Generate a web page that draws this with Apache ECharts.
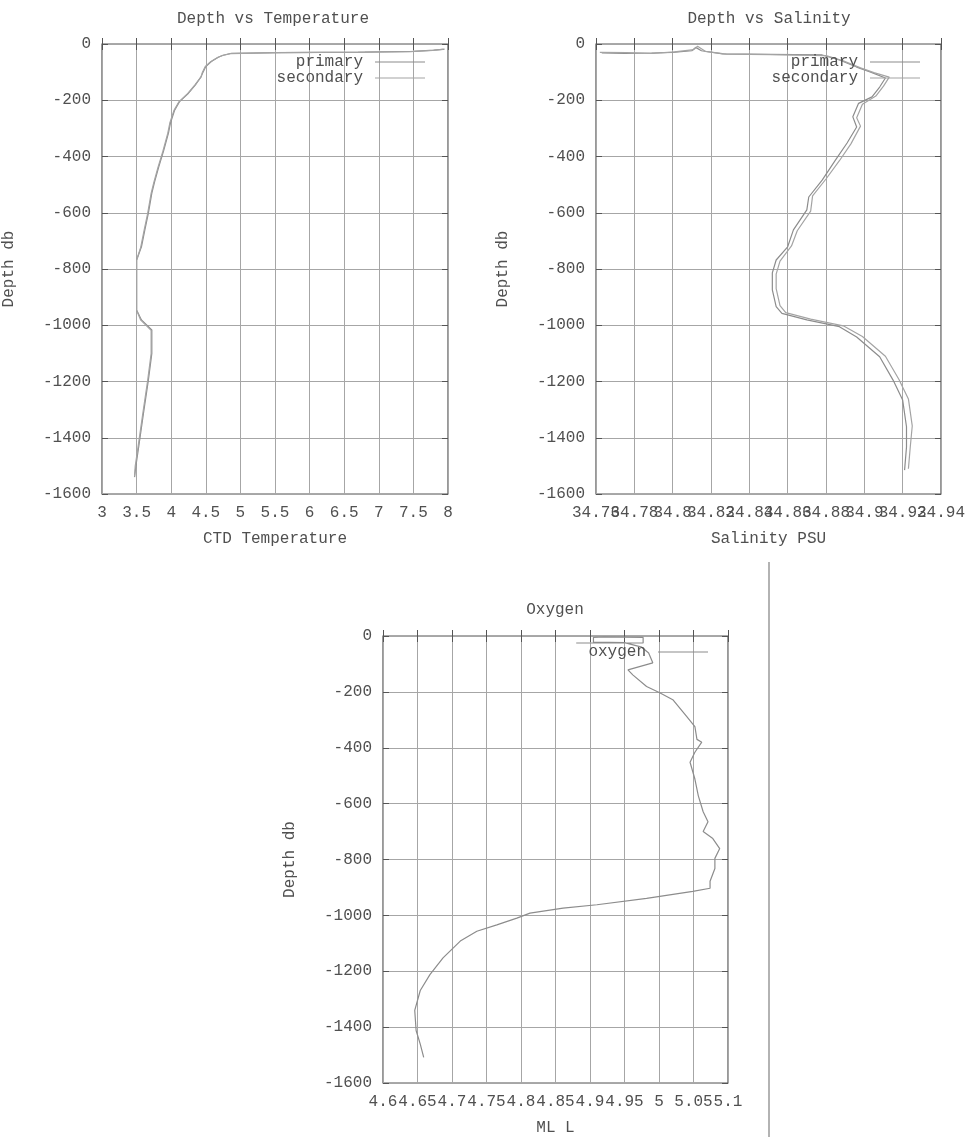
<!DOCTYPE html>
<html>
<head>
<meta charset="utf-8">
<script src="https://cdn.jsdelivr.net/npm/echarts@6/dist/echarts.min.js"></script>
<style>
html,body{margin:0;padding:0;background:#fff;}
#c{width:968px;height:1137px;}
</style>
</head>
<body>
<div id="c"></div>
<script>
// ---- Data (value, depth) ----
var temperaturePrimary = [
  [7.95,-18],[7.8,-22],[7.5,-26],[6.8,-29],[5.6,-31],[4.87,-33],[4.75,-40],[4.68,-47],[4.58,-62],
  [4.50,-80],[4.46,-100],[4.48,-106],[4.43,-117],[4.35,-145],[4.25,-175],[4.12,-205],[4.05,-235],
  [3.99,-280],[3.96,-317],[3.89,-380],[3.82,-437],[3.76,-490],[3.72,-530],[3.67,-601],[3.62,-660],
  [3.57,-721],[3.50,-768],[3.50,-850],[3.50,-946],[3.57,-981],[3.72,-1017],[3.72,-1100],[3.67,-1195],
  [3.60,-1312],[3.53,-1433],[3.49,-1500],[3.47,-1540]
];
var temperatureSecondary = [
  [7.93,-19],[7.78,-23],[7.45,-27],[6.7,-29],[5.5,-31],[4.86,-34],[4.74,-41],[4.67,-48],[4.57,-63],
  [4.49,-81],[4.45,-101],[4.43,-118],[4.34,-146],[4.24,-176],[4.11,-206],[4.04,-236],
  [3.98,-281],[3.95,-318],[3.88,-381],[3.81,-438],[3.75,-491],[3.71,-531],[3.66,-602],[3.61,-661],
  [3.56,-722],[3.50,-769],[3.50,-851],[3.50,-947],[3.56,-982],[3.71,-1018],[3.71,-1101],[3.66,-1196],
  [3.59,-1313],[3.52,-1434],[3.48,-1501],[3.47,-1538]
];
var salinityPrimary = [
  [34.763,-32],[34.775,-33],[34.789,-32],[34.800,-30],[34.810,-24],[34.812,-12],[34.815,-24],
  [34.826,-35],[34.850,-37],[34.878,-39],[34.887,-57],[34.896,-82],[34.903,-99],[34.911,-121],
  [34.908,-153],[34.904,-188],[34.897,-211],[34.894,-259],[34.896,-295],[34.891,-352],[34.885,-412],
  [34.878,-484],[34.871,-544],[34.870,-590],[34.863,-661],[34.860,-721],[34.854,-768],[34.852,-814],
  [34.852,-874],[34.854,-934],[34.857,-958],[34.870,-981],[34.887,-1005],[34.896,-1042],[34.908,-1112],
  [34.915,-1195],[34.920,-1266],[34.922,-1361],[34.922,-1433],[34.921,-1515]
];
var salinitySecondary = [
  [34.762,-30],[34.776,-31],[34.790,-33],[34.801,-28],[34.811,-20],[34.813,-8],[34.817,-26],
  [34.828,-36],[34.852,-38],[34.880,-41],[34.889,-60],[34.898,-85],[34.905,-102],[34.913,-118],
  [34.910,-150],[34.906,-185],[34.899,-214],[34.896,-262],[34.898,-292],[34.893,-355],[34.887,-415],
  [34.880,-480],[34.873,-540],[34.872,-594],[34.865,-664],[34.862,-718],[34.856,-772],[34.854,-818],
  [34.854,-870],[34.856,-930],[34.859,-955],[34.872,-978],[34.889,-1002],[34.899,-1040],[34.911,-1110],
  [34.918,-1192],[34.923,-1262],[34.925,-1358],[34.924,-1430],[34.923,-1510]
];
var oxygenValues = [
  [4.88,-25],[4.977,-25],[4.977,-5],[4.92,-3],[4.905,-5],[4.905,-22],[4.95,-24],[4.975,-40],
  [4.985,-61],[4.991,-96],[4.955,-121],[4.962,-139],[4.982,-181],[5.001,-203],[5.020,-228],
  [5.040,-288],[5.052,-324],[5.055,-370],[5.062,-380],[5.052,-416],[5.045,-452],[5.052,-512],
  [5.057,-572],[5.064,-629],[5.071,-665],[5.064,-700],[5.078,-725],[5.088,-761],[5.081,-796],
  [5.081,-832],[5.074,-878],[5.074,-903],[5.049,-914],[4.982,-939],[4.910,-962],[4.861,-974],
  [4.813,-992],[4.794,-1010],[4.765,-1034],[4.736,-1057],[4.712,-1092],[4.687,-1152],[4.668,-1212],
  [4.654,-1269],[4.646,-1340],[4.648,-1412],[4.654,-1461],[4.659,-1508]
];
var titles = ['Depth vs Temperature', 'Depth vs Salinity', 'Oxygen'];
var xNames = ['CTD Temperature', 'Salinity PSU', 'ML L'];
var yName = 'Depth db';
var xRanges = [[3, 8, 0.5], [34.76, 34.94, 0.02], [4.6, 5.1, 0.05]];
var yRange = [-1600, 0, 200];

// ---- Styling / layout ----
var FONT = 'Liberation Mono';
var FS = 16;
var TXT = '#505050';
var TICK = {show: true, inside: true, length: 6, lineStyle: {color: '#555'}};
var grids = [
  {left: 100, top: 44, width: 348, height: 450},
  {left: 596, top: 44, width: 346, height: 450},
  {left: 383, top: 636, width: 345, height: 450}
];
var titlePos = [[273, 11], [769, 11], [555, 602]];

function plain(v) { return String(+v.toFixed(4)); }
function labelEven(v, i) { return i % 2 === 0 ? plain(v) : ''; }
function labelOdd(v, i) { return i % 2 === 1 ? plain(v) : ''; }

var xAxes = [], yAxes = [];
grids.forEach(function (g, i) {
  var r = xRanges[i];
  xAxes.push({
    type: 'value', gridIndex: i, min: r[0], max: r[1], interval: r[2], position: 'bottom',
    name: xNames[i], nameLocation: 'middle', nameGap: 37,
    nameTextStyle: {fontFamily: FONT, fontSize: FS, color: TXT},
    axisLine: {show: false},
    axisTick: TICK,
    axisLabel: {margin: 11, fontFamily: FONT, fontSize: FS, color: TXT, showMinLabel: true, showMaxLabel: true, formatter: labelEven},
    splitLine: {show: true, lineStyle: {color: '#a6a6a6', width: 1}}
  });
  yAxes.push({
    type: 'value', gridIndex: i, min: yRange[0], max: yRange[1], interval: yRange[2], position: 'left',
    name: yName, nameLocation: 'middle', nameGap: 85, nameRotate: 90,
    nameTextStyle: {fontFamily: FONT, fontSize: FS, color: TXT},
    axisLine: {show: false},
    axisTick: TICK,
    axisLabel: {margin: 11, fontFamily: FONT, fontSize: FS, color: TXT, formatter: plain},
    splitLine: {show: true, lineStyle: {color: '#a6a6a6', width: 1}}
  });
});
// mirrored tick axes (top / right)
grids.forEach(function (g, i) {
  var r = xRanges[i];
  xAxes.push({
    type: 'value', gridIndex: i, min: r[0], max: r[1], interval: r[2], position: 'top',
    axisLine: {show: false}, axisLabel: {show: false}, splitLine: {show: false},
    axisTick: TICK
  });
  yAxes.push({
    type: 'value', gridIndex: i, min: yRange[0], max: yRange[1], interval: yRange[2], position: 'right',
    axisLine: {show: false}, axisLabel: {show: false}, splitLine: {show: false},
    axisTick: TICK
  });
});
// second bottom axes carrying the odd-index tick labels (so overlapping labels all stay visible)
grids.forEach(function (g, i) {
  var r = xRanges[i];
  xAxes.push({
    type: 'value', gridIndex: i, min: r[0], max: r[1], interval: r[2], position: 'bottom', offset: 0,
    axisLine: {show: false}, axisTick: {show: false}, splitLine: {show: false},
    axisLabel: {margin: 11, fontFamily: FONT, fontSize: FS, color: TXT, showMinLabel: true, showMaxLabel: true, formatter: labelOdd}
  });
});

function lineSeries(name, data, idx, color) {
  return {
    name: name, type: 'line', xAxisIndex: idx, yAxisIndex: idx, data: data,
    showSymbol: false, symbol: 'none', animation: false,
    lineStyle: {color: color, width: 1.2}, itemStyle: {color: color}
  };
}

var legendBase = {
  orient: 'vertical', align: 'right', icon: 'rect', itemWidth: 50, itemHeight: 1,
  itemGap: 0, padding: 0, selectedMode: false,
  textStyle: {fontFamily: FONT, fontSize: FS, color: TXT, lineHeight: 16, padding: [0, 7, 0, 0]}
};
function mkLegend(names, right, top) {
  var o = JSON.parse(JSON.stringify(legendBase));
  o.data = names; o.right = right; o.top = top;
  return o;
}

var chart = echarts.init(document.getElementById('c'), null, {renderer: 'canvas'});
chart.setOption({
  backgroundColor: '#ffffff',
  animation: false,
  title: titles.map(function (t, i) {
    return {text: t, left: titlePos[i][0], top: titlePos[i][1], textAlign: 'center', padding: 0,
      textStyle: {fontFamily: FONT, fontSize: FS, fontWeight: 'normal', color: TXT}};
  }),
  grid: grids.map(function (g) {
    return {left: g.left, top: g.top, width: g.width, height: g.height, show: true,
      borderColor: '#555', borderWidth: 1.2, backgroundColor: 'transparent'};
  }),
  legend: [
    mkLegend(['primary', 'secondary'], 968 - 425, 54),
    mkLegend(['primary', 'secondary'], 968 - 920, 54),
    mkLegend(['oxygen'], 968 - 708, 644)
  ],
  xAxis: xAxes,
  yAxis: yAxes,
  series: [
    lineSeries('primary', temperaturePrimary, 0, '#8c8c8c'),
    lineSeries('secondary', temperatureSecondary, 0, '#a4a4a4'),
    lineSeries('primary', salinityPrimary, 1, '#8c8c8c'),
    lineSeries('secondary', salinitySecondary, 1, '#a4a4a4'),
    lineSeries('oxygen', oxygenValues, 2, '#8c8c8c')
  ],
  graphic: [{
    type: 'line', shape: {x1: 769, y1: 562, x2: 769, y2: 1137},
    style: {stroke: '#9a9a9a', lineWidth: 1.5}
  }]
});
</script>
</body>
</html>
